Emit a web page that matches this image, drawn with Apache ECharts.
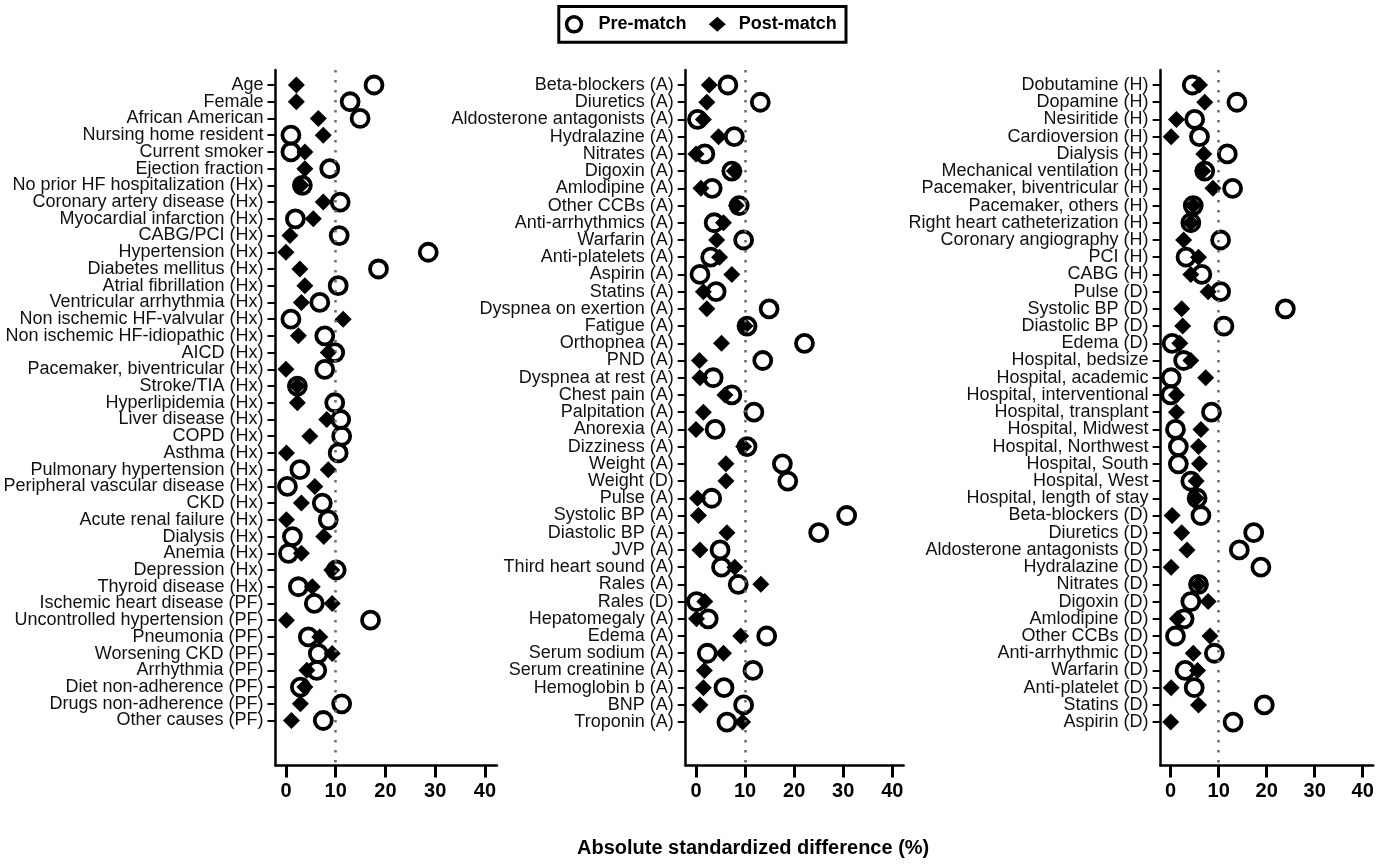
<!DOCTYPE html>
<html>
<head>
<meta charset="utf-8">
<script src="https://cdn.jsdelivr.net/npm/echarts@6/dist/echarts.min.js"></script>
<style>
html,body{margin:0;padding:0;background:#fff;}
#chart{width:1378px;height:864px;}
</style>
</head>
<body>
<div id="chart"></div>
<script>
// ---------- DATA ----------
const p1Cats = ["Age","Female","African American","Nursing home resident","Current smoker","Ejection fraction",
"No prior HF hospitalization (Hx)","Coronary artery disease (Hx)","Myocardial infarction (Hx)","CABG/PCI (Hx)",
"Hypertension (Hx)","Diabetes mellitus (Hx)","Atrial fibrillation (Hx)","Ventricular arrhythmia (Hx)",
"Non ischemic HF-valvular (Hx)","Non ischemic HF-idiopathic (Hx)","AICD (Hx)","Pacemaker, biventricular (Hx)",
"Stroke/TIA (Hx)","Hyperlipidemia (Hx)","Liver disease (Hx)","COPD (Hx)","Asthma (Hx)","Pulmonary hypertension (Hx)",
"Peripheral vascular disease (Hx)","CKD (Hx)","Acute renal failure (Hx)","Dialysis (Hx)","Anemia (Hx)",
"Depression (Hx)","Thyroid disease (Hx)","Ischemic heart disease (PF)","Uncontrolled hypertension (PF)",
"Pneumonia (PF)","Worsening CKD (PF)","Arrhythmia (PF)","Diet non-adherence (PF)","Drugs non-adherence (PF)",
"Other causes (PF)"];
const p1Pre = [17.7,12.9,14.9,1.0,1.0,8.8,3.3,10.9,1.9,10.7,28.6,18.6,10.5,6.8,1.0,7.8,9.8,7.8,2.3,9.8,
11.0,11.2,10.5,2.8,0.3,7.3,8.5,1.3,0.5,10.1,2.5,5.7,17.0,4.5,6.5,6.2,2.9,11.2,7.5];
const p1Post = [2.1,2.1,6.5,7.5,3.8,3.8,3.0,7.5,5.5,0.8,0.0,2.8,3.8,3.1,11.5,2.5,8.5,0.0,2.3,2.3,
8.2,4.8,0.1,8.5,5.8,3.1,0.1,7.6,3.1,9.2,5.3,9.3,0.1,6.8,9.3,4.2,3.8,2.9,1.1];

const p2Cats = ["Beta-blockers (A)","Diuretics (A)","Aldosterone antagonists (A)","Hydralazine (A)","Nitrates (A)",
"Digoxin (A)","Amlodipine (A)","Other CCBs (A)","Anti-arrhythmics (A)","Warfarin (A)","Anti-platelets (A)",
"Aspirin (A)","Statins (A)","Dyspnea on exertion (A)","Fatigue (A)","Orthopnea (A)","PND (A)",
"Dyspnea at rest (A)","Chest pain (A)","Palpitation (A)","Anorexia (A)","Dizziness (A)","Weight (A)",
"Weight (D)","Pulse (A)","Systolic BP (A)","Diastolic BP (A)","JVP (A)","Third heart sound (A)","Rales (A)",
"Rales (D)","Hepatomegaly (A)","Edema (A)","Serum sodium (A)","Serum creatinine (A)","Hemoglobin b (A)",
"BNP (A)","Troponin (A)"];
const p2Pre = [6.5,13.1,0.3,7.8,1.8,7.3,3.3,8.8,3.7,9.7,3.0,0.8,4.1,14.9,10.4,22.1,13.6,3.5,7.3,11.8,
3.9,10.4,17.6,18.7,3.2,30.7,25.0,4.9,5.2,8.6,0.1,2.5,14.4,2.3,11.6,5.7,9.7,6.3];
const p2Post = [2.7,2.2,1.5,4.6,0.0,7.8,1.0,8.2,5.6,4.2,4.8,7.3,1.5,2.2,10.0,5.2,0.7,0.8,5.9,1.5,
0.0,9.7,6.1,6.1,0.3,0.5,6.3,0.8,7.9,13.2,1.8,0.1,9.1,5.6,1.7,1.5,0.8,9.5];

const p3Cats = ["Dobutamine (H)","Dopamine (H)","Nesiritide (H)","Cardioversion (H)","Dialysis (H)",
"Mechanical ventilation (H)","Pacemaker, biventricular (H)","Pacemaker, others (H)",
"Right heart catheterization (H)","Coronary angiography (H)","PCI (H)","CABG (H)","Pulse (D)",
"Systolic BP (D)","Diastolic BP (D)","Edema (D)","Hospital, bedsize","Hospital, academic",
"Hospital, interventional","Hospital, transplant","Hospital, Midwest","Hospital, Northwest",
"Hospital, South","Hospital, West","Hospital, length of stay","Beta-blockers (D)","Diuretics (D)",
"Aldosterone antagonists (D)","Hydralazine (D)","Nitrates (D)","Digoxin (D)","Amlodipine (D)",
"Other CCBs (D)","Anti-arrhythmic (D)","Warfarin (D)","Anti-platelet (D)","Statins (D)","Aspirin (D)"];
const p3Pre = [4.5,13.8,5.0,6.0,11.8,7.1,12.9,4.7,4.2,10.4,3.2,6.5,10.4,23.9,11.1,0.3,2.7,0.1,0.0,8.5,
1.0,1.6,1.6,4.2,5.5,6.3,17.3,14.3,18.8,5.8,4.2,2.8,1.0,9.1,3.0,4.9,19.5,13.0];
const p3Post = [6.0,7.1,1.2,0.1,6.9,6.7,8.8,4.7,4.2,2.7,5.8,4.2,7.8,2.3,2.5,1.9,4.2,7.3,1.2,1.2,
6.3,5.8,6.0,5.3,5.3,0.3,2.3,3.4,0.1,5.8,7.8,1.4,8.2,4.7,5.6,0.1,5.8,0.0];

const xTicks = [0, 10, 20, 30, 40];
const refValue = 10;
const seriesNames = ["Pre-match", "Post-match"];
const xTitle = "Absolute standardized difference (%)";

// ---------- LAYOUT ----------
const FONT = '"Liberation Sans", Arial, Helvetica, sans-serif';
const panels = [
  {cats: p1Cats, pre: p1Pre, post: p1Post, left: 275.5, width: 221.4, xmin: -2.1, xmax: 42.4, ymin: -0.898, ymax: 40.69},
  {cats: p2Cats, pre: p2Pre, post: p2Post, left: 685.7, width: 217.9, xmin: -2.1, xmax: 42.3, ymin: -0.872, ymax: 39.52},
  {cats: p3Cats, pre: p3Pre, post: p3Post, left: 1160.6, width: 212.6, xmin: -2.1, xmax: 42.2, ymin: -0.872, ymax: 39.52}
];

const grids = [], xAxes = [], yAxes = [], series = [];
panels.forEach((p, i) => {
  grids.push({left: p.left, width: p.width, top: 70, height: 695.5, outerBoundsMode: 'none', containLabel: false});
  xAxes.push({
    type: 'value', gridIndex: i, min: p.xmin, max: p.xmax,
    axisLine: {show: true, onZero: false, lineStyle: {color: '#000', width: 2.5}},
    axisTick: {show: true, customValues: xTicks, length: 12, lineStyle: {color: '#000', width: 3}},
    axisLabel: {customValues: xTicks, margin: 16, fontFamily: FONT, fontSize: 20, fontWeight: 'bold', color: '#000',
      showMinLabel: true, showMaxLabel: true},
    splitLine: {show: false}
  });
  // category positions plus two invisible sentinels at the axis ends (hidden via showMin/MaxLabel:false)
  const idx = [p.ymin + 0.01].concat(p.cats.map((c, k) => k), [p.ymax - 0.01]);
  yAxes.push({
    type: 'value', gridIndex: i, inverse: true, min: p.ymin, max: p.ymax,
    axisLine: {show: true, onZero: false, lineStyle: {color: '#000', width: 2.5}},
    axisTick: {show: true, customValues: idx, length: 8, lineStyle: {color: '#000', width: 2}},
    axisLabel: {customValues: idx, margin: 12, fontFamily: FONT, fontSize: 18, color: '#111',
      showMinLabel: false, showMaxLabel: false, hideOverlap: false,
      formatter: v => (Number.isInteger(v) ? p.cats[v] : '')},
    splitLine: {show: false}
  });
  series.push({
    name: seriesNames[0], type: 'scatter', xAxisIndex: i, yAxisIndex: i,
    symbol: 'circle', symbolSize: 17,
    itemStyle: {color: 'rgba(0,0,0,0)', borderColor: '#000', borderWidth: 3.8, opacity: 1},
    data: p.pre.map((v, k) => [v, k]),
    markLine: {
      silent: true, symbol: 'none', animation: false,
      label: {show: false},
      lineStyle: {type: [2.5, 7.5], color: '#6a6a6a', width: 2.5},
      emphasis: {disabled: true},
      data: [{xAxis: refValue}]
    },
    z: 3
  });
  series.push({
    name: seriesNames[1], type: 'scatter', xAxisIndex: i, yAxisIndex: i,
    symbol: 'diamond', symbolSize: 17,
    itemStyle: {color: '#000', opacity: 1},
    data: p.post.map((v, k) => [v, k]),
    z: 4
  });
});

const chart = echarts.init(document.getElementById('chart'), null, {renderer: 'canvas'});
chart.setOption({
  animation: false,
  backgroundColor: '#fff',
  legend: {
    left: 558.8, top: 6.5,
    padding: [8.6, 9.2, 8.6, 6],
    itemWidth: 17, itemHeight: 15, itemGap: 22.2,
    borderColor: '#000', borderWidth: 3,
    selectedMode: false,
    textStyle: {fontFamily: FONT, fontSize: 18, fontWeight: 'bold', color: '#000', padding: [0, 0, 0, 11]},
    data: [
      {name: seriesNames[0], icon: 'circle', itemStyle: {color: 'rgba(0,0,0,0)', borderColor: '#000', borderWidth: 3.5}},
      {name: seriesNames[1], icon: 'diamond', itemStyle: {color: '#000', borderWidth: 0},
        textStyle: {fontFamily: FONT, fontSize: 18, fontWeight: 'bold', color: '#000', padding: [0, 0, 0, 8]}}
    ]
  },
  grid: grids,
  xAxis: xAxes,
  yAxis: yAxes,
  series: series,
  graphic: [{
    type: 'text', left: 577, top: 838,
    style: {text: xTitle, font: 'bold 20px ' + FONT, fill: '#000'}
  }]
});
</script>
</body>
</html>
